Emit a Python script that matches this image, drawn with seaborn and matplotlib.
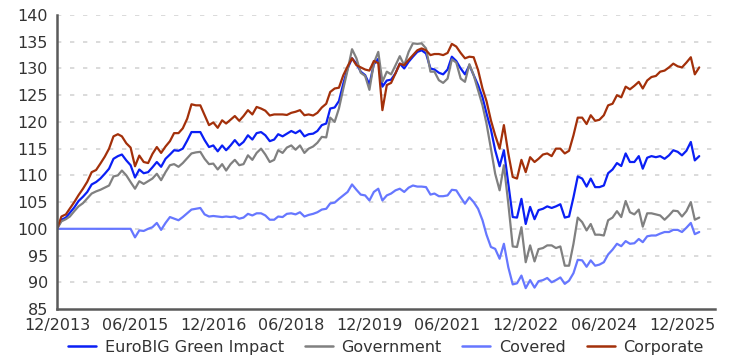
import numpy as np
import pandas as pd
import matplotlib
matplotlib.use("Agg")
import matplotlib.pyplot as plt
from matplotlib.lines import Line2D
import seaborn as sns

# Monthly index levels, base 100 at 12/2013
start_month = "2013-12-01"

eurobig = [
    100.0, 101.7, 102.1, 103.0, 104.0, 105.2, 106.0, 106.9, 108.3, 108.75,
    109.4, 110.3, 111.25, 113.1, 113.6, 113.9, 112.8, 111.9, 109.6, 111.1,
    110.4, 110.6, 111.5, 112.5, 111.6, 113.1, 113.9, 114.7, 114.6, 115.0,
    116.5, 118.1, 118.1, 118.1, 116.6, 115.3, 115.6, 114.5, 115.6, 114.7,
    115.6, 116.6, 115.6, 116.25, 117.5, 116.7, 117.9, 118.1, 117.5, 116.4,
    116.7, 117.7, 117.3, 117.8, 118.3, 117.9, 118.4, 117.3, 117.7, 117.8,
    118.3, 119.4, 119.7, 122.5, 122.7, 123.9, 127.2, 130.0, 131.9, 130.9,
    129.4, 128.75, 127.0, 130.8, 131.8, 126.6, 127.75, 127.9, 129.1, 130.9,
    130.0, 131.25, 132.2, 133.1, 133.4, 132.8, 130.0, 129.8, 129.2, 128.9,
    129.8, 132.2, 131.4, 130.0, 128.9, 130.6, 128.75, 126.9, 124.6, 121.6,
    118.6, 114.7, 111.7, 114.7, 108.4, 102.2, 102.1, 105.6, 100.9, 104.1,
    101.8, 103.5, 103.75, 104.2, 103.9, 104.2, 104.6, 102.1, 102.3, 105.9,
    109.8, 109.4, 107.9, 109.4, 107.8, 107.8, 108.1, 110.4, 111.1, 112.3,
    111.75, 114.1, 112.5, 112.5, 113.6, 111.25, 113.3, 113.6, 113.4, 113.6,
    113.1, 113.75, 114.7, 114.4, 113.75, 114.6, 116.25, 112.8, 113.6,
]

government = [
    100.0, 101.4, 101.8, 102.3, 103.3, 104.2, 104.8, 105.7, 106.6, 107.0,
    107.3, 107.7, 108.1, 109.8, 110.0, 110.9, 110.0, 108.75, 107.5, 108.9,
    108.4, 108.9, 109.4, 110.3, 109.1, 110.6, 111.9, 112.1, 111.6, 112.3,
    113.2, 114.1, 114.3, 114.4, 113.1, 112.1, 112.2, 111.1, 112.1, 110.9,
    112.1, 112.9, 111.9, 112.1, 113.75, 112.9, 114.2, 115.0, 113.9, 112.5,
    112.9, 114.7, 114.2, 115.2, 115.6, 114.8, 115.6, 114.2, 115.0, 115.4,
    116.1, 117.2, 117.1, 120.8, 120.0, 122.5, 126.25, 129.7, 133.6, 131.9,
    129.2, 128.6, 126.0, 131.0, 133.1, 127.5, 129.4, 128.9, 130.6, 132.3,
    130.6, 133.1, 134.7, 134.6, 134.7, 133.75, 129.4, 129.4, 127.8, 127.3,
    128.1, 131.7, 131.1, 128.1, 127.5, 130.8, 128.75, 125.9, 123.1, 119.7,
    115.0, 110.3, 107.2, 111.9, 104.7, 96.7, 96.6, 100.3, 93.75, 96.9,
    93.9, 96.2, 96.4, 96.9, 96.9, 96.4, 96.7, 93.1, 93.1, 97.2,
    102.1, 101.25, 99.7, 100.9, 98.9, 98.9, 98.75, 101.6, 102.1, 103.3,
    102.2, 105.2, 103.1, 102.7, 103.6, 100.4, 102.9, 102.9, 102.7, 102.5,
    101.7, 102.5, 103.4, 103.3, 102.3, 103.3, 105.0, 101.7, 102.1,
]

covered = [
    100.0, 100.0, 100.0, 100.0, 100.0, 100.0, 100.0, 100.0, 100.0, 100.0,
    100.0, 100.0, 100.0, 100.0, 100.0, 100.0, 100.0, 100.0, 98.4, 99.7,
    99.6, 100.0, 100.3, 101.1, 99.8, 101.1, 102.2, 101.9, 101.6, 102.2,
    102.9, 103.6, 103.75, 103.9, 102.7, 102.3, 102.4, 102.3, 102.2, 102.3,
    102.2, 102.3, 101.9, 102.1, 102.8, 102.5, 102.9, 102.9, 102.5, 101.7,
    101.7, 102.3, 102.2, 102.8, 102.9, 102.7, 103.1, 102.3, 102.6, 102.8,
    103.1, 103.6, 103.75, 104.75, 104.9, 105.6, 106.25, 106.9, 108.3, 107.3,
    106.4, 106.25, 105.3, 106.9, 107.5, 105.3, 106.25, 106.6, 107.2, 107.5,
    106.9, 107.7, 108.1, 107.9, 107.9, 107.8, 106.4, 106.6, 106.1, 106.1,
    106.25, 107.3, 107.2, 105.9, 104.7, 105.9, 105.0, 103.75, 101.6, 98.9,
    96.6, 96.25, 94.4, 97.2, 92.8, 89.6, 89.8, 91.25, 88.9, 90.4,
    89.0, 90.2, 90.4, 90.8, 90.0, 90.4, 90.9, 89.7, 90.3, 91.7,
    94.2, 94.1, 92.9, 94.1, 93.1, 93.3, 93.75, 95.2, 96.1, 97.2,
    96.75, 97.7, 97.2, 97.3, 98.1, 97.5, 98.6, 98.75, 98.75, 99.1,
    99.4, 99.4, 99.8, 99.8, 99.4, 100.2, 101.1, 99.0, 99.4,
]

corporate = [
    100.0, 102.3, 102.7, 103.8, 105.0, 106.3, 107.5, 108.8, 110.6, 111.0,
    112.2, 113.5, 115.0, 117.3, 117.7, 117.3, 116.0, 115.2, 111.7, 113.7,
    112.5, 112.3, 114.0, 115.3, 114.2, 115.4, 116.4, 117.9, 117.9, 118.8,
    120.6, 123.3, 123.1, 123.1, 121.3, 119.4, 119.9, 118.9, 120.3, 119.7,
    120.4, 121.1, 120.2, 121.1, 122.2, 121.4, 122.8, 122.5, 122.1, 121.2,
    121.4, 121.4, 121.4, 121.3, 121.7, 121.9, 122.2, 121.25, 121.4, 121.2,
    121.7, 122.7, 123.4, 125.6, 126.25, 126.4, 128.75, 130.4, 131.9, 130.6,
    130.2, 129.8, 129.6, 131.4, 131.0, 122.2, 126.9, 127.3, 129.1, 130.9,
    130.6, 131.6, 132.5, 133.4, 133.75, 133.4, 132.5, 132.7, 132.7, 132.5,
    132.9, 134.6, 134.1, 132.9, 131.9, 132.2, 132.1, 129.7, 126.25, 123.9,
    120.3, 117.5, 115.0, 119.4, 114.1, 109.7, 109.4, 112.9, 110.6, 113.4,
    112.5, 113.1, 113.9, 114.1, 113.6, 115.0, 115.0, 114.1, 114.6, 117.5,
    120.8, 120.8, 119.6, 121.25, 120.2, 120.4, 121.25, 123.1, 123.4, 125.0,
    124.6, 126.6, 126.1, 126.75, 127.5, 126.25, 127.75, 128.4, 128.6, 129.4,
    129.6, 130.2, 130.9, 130.4, 130.2, 131.1, 132.1, 128.9, 130.2,
]

series_names = ["EuroBIG Green Impact", "Government", "Covered", "Corporate"]
series_colors = ["#0a1ff5", "#808080", "#6677ff", "#a3300a"]

tick_dates = ["2013-12-01", "2015-06-01", "2016-12-01", "2018-06-01", "2019-12-01",
              "2021-06-01", "2022-12-01", "2024-06-01", "2025-12-01"]
tick_labels = ["12/2013", "06/2015", "12/2016", "06/2018", "12/2019",
               "06/2021", "12/2022", "06/2024", "12/2025"]
y_ticks = [85, 90, 95, 100, 105, 110, 115, 120, 125, 130, 135, 140]

dates = pd.date_range(start_month, periods=len(eurobig), freq="MS")
frames = []
for name, vals in zip(series_names, [eurobig, government, covered, corporate]):
    frames.append(pd.DataFrame({"date": dates, "value": vals, "series": name}))
df = pd.concat(frames, ignore_index=True)

sns.set_theme(style="white")
plt.rcParams["font.family"] = ["DejaVu Sans"]

fig = plt.figure(figsize=(7.31, 3.60), dpi=100)
ax = fig.add_axes([0.078, 0.1417, 0.900, 0.8166])

palette = dict(zip(series_names, series_colors))
sns.lineplot(data=df, x="date", y="value", hue="series", hue_order=series_names,
             palette=palette, linewidth=1.6, ax=ax, legend=False)

ax.set_ylim(85, 140)
ax.set_yticks(y_ticks)
ax.set_yticklabels([str(v) for v in y_ticks])
ax.set_xlim(pd.Timestamp("2013-12-01"), pd.Timestamp("2026-07-20"))
ax.set_xticks(pd.to_datetime(tick_dates))
ax.set_xticklabels(tick_labels)
ax.set_xlabel("")
ax.set_ylabel("")

for v in y_ticks[1:]:
    ax.axhline(v, color="#d4d4d4", linewidth=1.2, linestyle=(0, (2.6, 5.2)), zorder=0)

for side in ["top", "right"]:
    ax.spines[side].set_visible(False)
ax.spines["left"].set_color("#5a5a5a")
ax.spines["left"].set_linewidth(1.8)
ax.spines["bottom"].set_color("#5a5a5a")
ax.spines["bottom"].set_linewidth(1.8)
ax.tick_params(axis="both", length=0, labelsize=11.5, colors="#333333")
ax.tick_params(axis="y", pad=6.5)
ax.tick_params(axis="x", pad=6.5)

handles = [Line2D([0], [0], color=c, linewidth=1.8) for c in series_colors]
leg = ax.legend(handles, series_names, loc="center", bbox_to_anchor=(0.5, -0.13),
                ncol=4, frameon=False, fontsize=11.5, handlelength=1.75,
                columnspacing=1.3, handletextpad=0.55, borderaxespad=0)
for t in leg.get_texts():
    t.set_color("#333333")

fig.savefig("out.png", dpi=100)
